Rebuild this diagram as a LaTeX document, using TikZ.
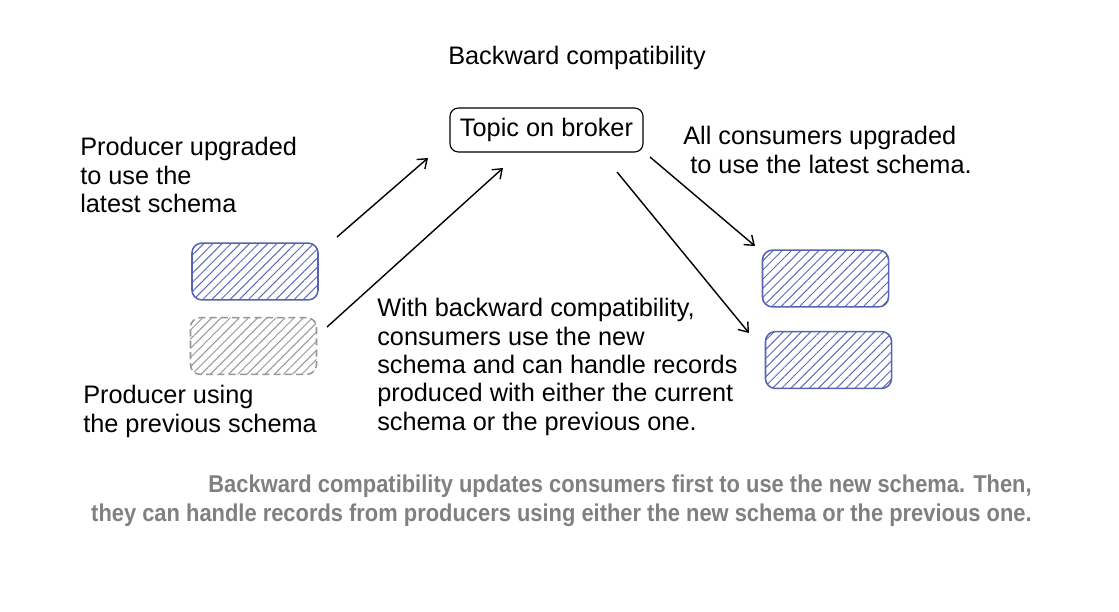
\documentclass[tikz,border=0pt]{standalone}
\usepackage{fontspec}
\setmainfont{Liberation Sans}
\newfontfamily\capfont[FakeStretch=0.9]{Liberation Sans}
\usetikzlibrary{patterns.meta,arrows.meta}
\definecolor{schemablue}{RGB}{84,100,178}
\definecolor{hatchblue}{RGB}{92,108,184}
\definecolor{oldgray}{RGB}{150,150,150}
\definecolor{capgray}{RGB}{128,128,128}
\tikzset{
  hand/.style={font=\fontsize{18}{20.2}\selectfont, align=left, inner sep=0pt, anchor=north west},
  schemabox/.style={rounded corners=7pt, minimum width=3.15cm, minimum height=1.42cm, line width=1.1pt,
    pattern={Lines[angle=45,distance=4.6pt,line width=0.7pt]}},
  newschema/.style={schemabox, draw=schemablue, pattern color=hatchblue},
  oldschema/.style={schemabox, draw=oldgray, dashed, dash pattern=on 5pt off 3pt, pattern color=oldgray},
  flow/.style={line width=1pt, -{Straight Barb[length=6pt,width=9pt,line width=1pt]}},
}
\begin{document}
\begin{tikzpicture}[x=0.025cm, y=-0.025cm]
  \useasboundingbox (0,0) rectangle (1119,612);
  % title and broker
  \node[font=\fontsize{18}{20.2}\selectfont] (title) at (577,58) {Backward compatibility};
  \node[draw, rounded corners=6pt, line width=0.8pt, minimum width=4.825cm, minimum height=1.1cm,
    font=\fontsize{18}{20.2}\selectfont] (topic) at (546.5,130) {Topic on broker};
  % producers
  \node[hand] (uptext) at (80,137) {Producer upgraded\\to use the\\latest schema};
  \node[newschema] (newprod) at (255,271.5) {};
  \node[oldschema] (oldprod) at (253.5,346) {};
  \node[hand] (oldtext) at (83,385) {Producer using\\the previous schema};
  % consumers
  \node[hand] (constext) at (683,126) {All consumers upgraded\\\ to use the latest schema.};
  \node[newschema] (cons1) at (825.5,278.5) {};
  \node[newschema] (cons2) at (828.5,360) {};
  \node[hand] (midtext) at (377,298) {With backward compatibility,\\consumers use the new\\schema and can handle records\\produced with either the current\\schema or the previous one.};
  % arrow ends
  \coordinate (p1s) at (337,237);
  \coordinate (p1e) at (428,158);
  \coordinate (p2s) at (327,327);
  \coordinate (p2e) at (503,168);
  \coordinate (c1s) at (650,157);
  \coordinate (c1e) at (755,246);
  \coordinate (c2s) at (617,172);
  \coordinate (c2e) at (749,333);
  \draw[flow] (p1s) -- (p1e);
  \draw[flow] (p2s) -- (p2e);
  \draw[flow] (c1s) -- (c1e);
  \draw[flow] (c2s) -- (c2e);
  % caption
  \node[font=\capfont\bfseries\fontsize{17.3}{20.5}\selectfont, text=capgray, align=right,
    inner sep=0pt, anchor=north east] (caption) at (1032,475)
    {Backward compatibility updates consumers first to use the new schema. Then,\\they can handle records from producers using either the new schema or the previous one.};
\end{tikzpicture}
\end{document}
